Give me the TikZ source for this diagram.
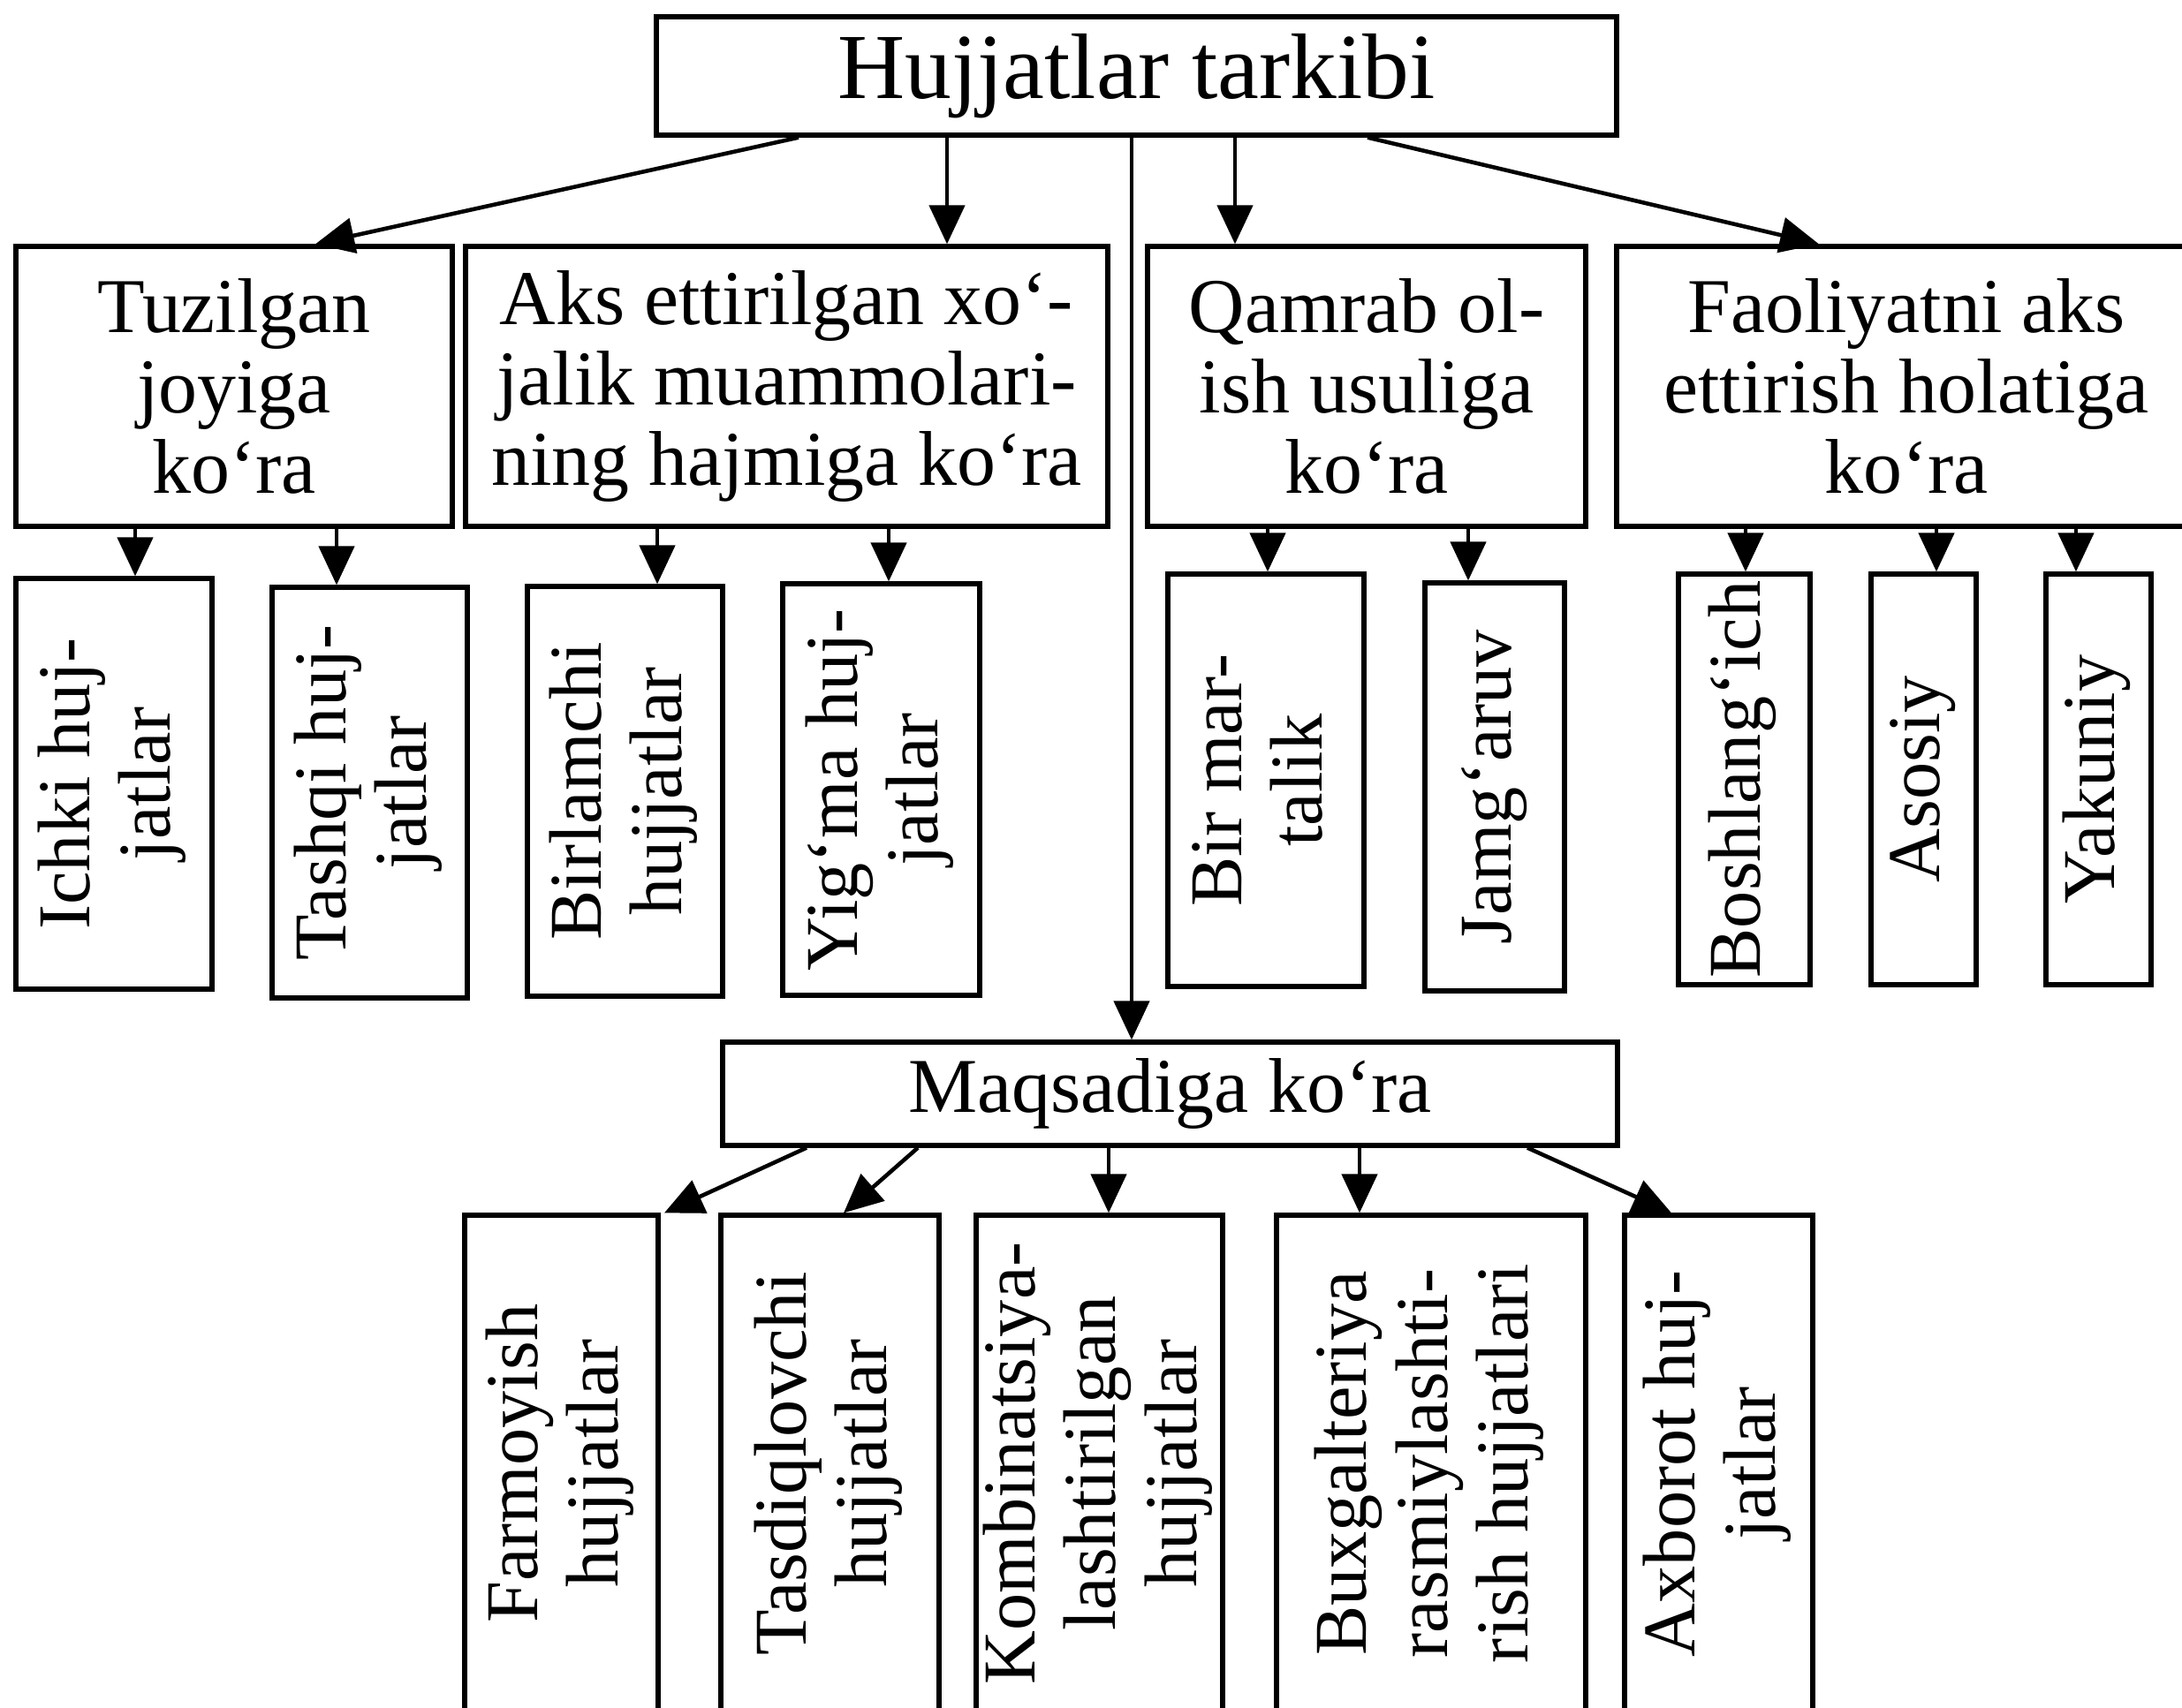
\documentclass[tikz,border=0pt]{standalone}
\usepackage{fontspec}
\setmainfont{Liberation Serif}
\usetikzlibrary{arrows.meta}
\newcommand{\vtxt}[1]{\rotatebox{90}{\begin{tabular}{@{}c@{}}#1\end{tabular}}}
\begin{document}
\begin{tikzpicture}[x=1cm, y=-1cm,
  block/.style={draw,line width=1.5pt,inner sep=1pt,align=center,font=\fontsize{25}{26}\selectfont},
  vblock/.style={draw,line width=1.5pt,inner sep=0pt,font=\fontsize{24}{26}\selectfont},
  arr/.style={-{Triangle[length=4.4mm,width=4mm]},line width=1.3pt}]
  \useasboundingbox (0,0) rectangle (24.70,19.33);
  % root
  \node[block,minimum width=10.87cm,minimum height=1.34cm,font=\fontsize{30}{32}\selectfont] (root) at (12.865,0.86) {Hujjatlar tarkibi};
  % row 1: criteria
  \node[block,minimum width=4.94cm,minimum height=3.17cm] (joy) at (2.65,4.375) {Tuzilgan\\joyiga\\ko‘ra};
  \node[block,minimum width=7.27cm,minimum height=3.17cm] (hajm) at (8.905,4.375) {Aks ettirilgan xo‘-\\jalik muammolari-\\ning hajmiga ko‘ra};
  \node[block,minimum width=4.96cm,minimum height=3.17cm] (qamr) at (15.47,4.375) {Qamrab ol-\\ish usuliga\\ko‘ra};
  \node[block,minimum width=6.56cm,minimum height=3.17cm] (faol) at (21.58,4.375) {Faoliyatni aks\\ettirish holatiga\\ko‘ra};
  % row 2: document kinds
  \node[vblock,minimum width=2.22cm,minimum height=4.65cm] (ichki) at (1.29,8.875) {\vtxt{Ichki huj-\\jatlar}};
  \node[vblock,minimum width=2.21cm,minimum height=4.65cm] (tashqi) at (4.185,8.975) {\vtxt{Tashqi huj-\\jatlar}};
  \node[vblock,minimum width=2.21cm,minimum height=4.64cm] (birl) at (7.075,8.96) {\vtxt{Birlamchi\\hujjatlar}};
  \node[vblock,minimum width=2.23cm,minimum height=4.66cm] (yigma) at (9.975,8.94) {\vtxt{Yig‘ma huj-\\jatlar}};
  \node[vblock,minimum width=2.22cm,minimum height=4.67cm] (birm) at (14.33,8.835) {\vtxt{Bir mar-\\talik}};
  \node[vblock,minimum width=1.58cm,minimum height=4.62cm] (jamg) at (16.92,8.91) {\vtxt{Jamg‘aruv}};
  \node[vblock,minimum width=1.49cm,minimum height=4.65cm] (bosh) at (19.745,8.825) {\vtxt{Boshlang‘ich}};
  \node[vblock,minimum width=1.19cm,minimum height=4.65cm] (asos) at (21.775,8.825) {\vtxt{Asosiy}};
  \node[vblock,minimum width=1.19cm,minimum height=4.65cm] (yaku) at (23.755,8.825) {\vtxt{Yakuniy}};
  % purpose
  \node[block,minimum width=10.13cm,minimum height=1.17cm] (maq) at (13.245,12.385) {Maqsadiga ko‘ra};
  % row 4: by purpose
  \node[vblock,minimum width=2.19cm,minimum height=5.62cm] (farm) at (6.355,16.57) {\vtxt{Farmoyish\\hujjatlar}};
  \node[vblock,minimum width=2.47cm,minimum height=5.62cm] (tasd) at (9.395,16.57) {\vtxt{Tasdiqlovchi\\hujjatlar}};
  \node[vblock,minimum width=2.79cm,minimum height=5.62cm] (komb) at (12.445,16.57) {\vtxt{Kombinatsiya-\\lashtirilgan\\hujjatlar}};
  \node[vblock,minimum width=3.50cm,minimum height=5.62cm] (bux) at (16.20,16.57) {\vtxt{Buxgalteriya\\rasmiylashti-\\rish hujjatlari}};
  \node[vblock,minimum width=2.13cm,minimum height=5.62cm] (axb) at (19.455,16.57) {\vtxt{Axborot huj-\\jatlar}};
  % root arrows
  \draw[arr] (root.south -| 9.04,0) -- (joy.north -| 3.57,0);
  \draw[arr] (root.south -| 10.72,0) -- (hajm.north -| 10.72,0);
  \draw[arr] (root.south -| 13.98,0) -- (qamr.north -| 13.98,0);
  \draw[arr] (root.south -| 15.48,0) -- (faol.north -| 20.59,0);
  \draw[arr] (root.south -| 12.81,0) -- (maq.north -| 12.81,0);
  % row 1 -> row 2
  \draw[arr] (joy.south -| 1.53,0) -- (ichki.north -| 1.53,0); \draw[arr] (joy.south -| 3.81,0) -- (tashqi.north -| 3.81,0);
  \draw[arr] (hajm.south -| 7.44,0) -- (birl.north -| 7.44,0); \draw[arr] (hajm.south -| 10.06,0) -- (yigma.north -| 10.06,0);
  \draw[arr] (qamr.south -| 14.35,0) -- (birm.north -| 14.35,0); \draw[arr] (qamr.south -| 16.62,0) -- (jamg.north -| 16.62,0);
  \draw[arr] (faol.south -| 19.76,0) -- (bosh.north -| 19.76,0); \draw[arr] (faol.south -| 21.92,0) -- (asos.north -| 21.92,0);
  \draw[arr] (faol.south -| 23.50,0) -- (yaku.north -| 23.50,0);
  % purpose -> row 4
  \draw[arr] (maq.south -| 9.13,0) -- (farm.north -| 7.52,0);
  \draw[arr] (maq.south -| 10.39,0) -- (tasd.north -| 9.55,0);
  \draw[arr] (maq.south -| 12.55,0) -- (komb.north -| 12.55,0);
  \draw[arr] (maq.south -| 15.39,0) -- (bux.north -| 15.39,0);
  \draw[arr] (maq.south -| 17.29,0) -- (axb.north -| 18.92,0);
\end{tikzpicture}
\end{document}
